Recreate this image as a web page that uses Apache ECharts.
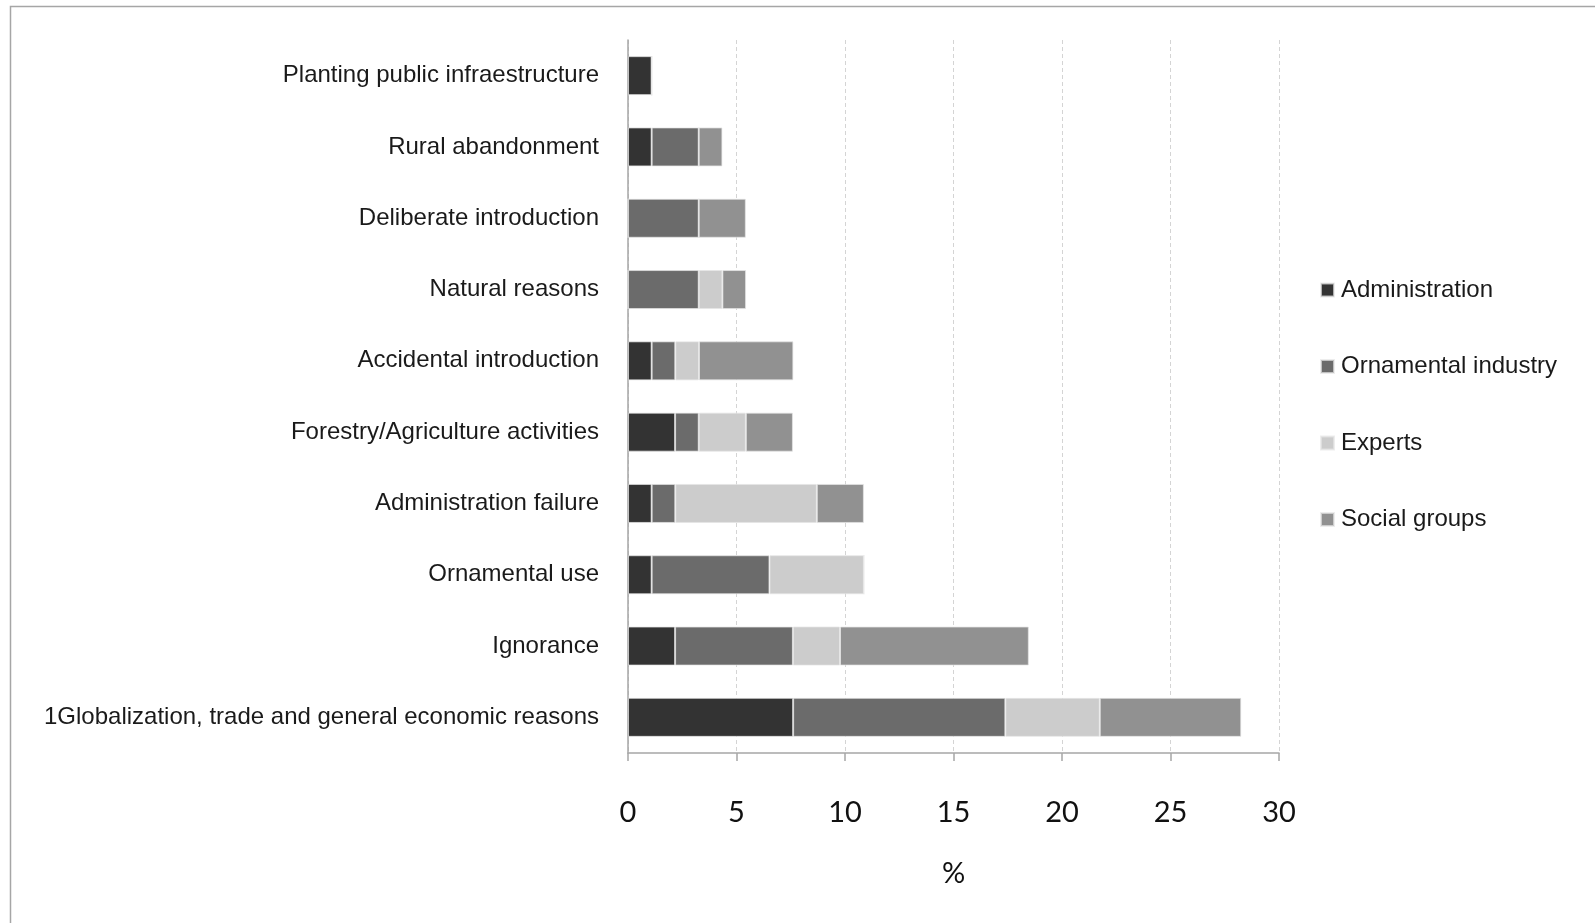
<!DOCTYPE html>
<html>
<head>
<meta charset="utf-8">
<script src="https://cdn.jsdelivr.net/npm/echarts@6/dist/echarts.min.js"></script>
<style>
  html, body { margin: 0; padding: 0; background: #fff; }
  #chart { width: 1595px; height: 923px; }
</style>
</head>
<body>
<div id="chart"></div>
<script>
// Causes of invasive plant spread, share of responses (%) by stakeholder group
const categories = [
  'Planting public infraestructure',
  'Rural abandonment',
  'Deliberate introduction',
  'Natural reasons',
  'Accidental introduction',
  'Forestry/Agriculture activities',
  'Administration failure',
  'Ornamental use',
  'Ignorance',
  '1Globalization, trade and general economic reasons'
];

const administration = [1.09, 1.09, 0, 0, 1.09, 2.17, 1.09, 1.09, 2.17, 7.61];
const ornamentalIndustry = [0, 2.17, 3.26, 3.26, 1.09, 1.09, 1.09, 5.43, 5.43, 9.78];
const experts = [0, 0, 0, 1.09, 1.09, 2.17, 6.52, 4.35, 2.17, 4.35];
const socialGroups = [0, 1.09, 2.17, 1.09, 4.35, 2.17, 2.17, 0, 8.70, 6.52];

const seriesNames = ['Administration', 'Ornamental industry', 'Experts', 'Social groups'];
const seriesColors = ['#333333', '#6b6b6b', '#cccccc', '#919191'];
const seriesData = [administration, ornamentalIndustry, experts, socialGroups];

const xTicks = { min: 0, max: 30, interval: 5 };

const labelFont = "'Liberation Sans', Arial, sans-serif";
const tickFont = "Lato, 'Open Sans', sans-serif";

const chart = echarts.init(document.getElementById('chart'), null, { renderer: 'canvas' });

chart.setOption({
  backgroundColor: '#ffffff',
  animation: false,
  graphic: [{
    type: 'rect',
    shape: { x: 10.5, y: 6.5, width: 1700, height: 1000 },
    style: { fill: 'none', stroke: '#a6a6a6', lineWidth: 1.5 },
    silent: true
  }],
  grid: { left: 628, top: 40, width: 651, height: 713, containLabel: false },
  legend: {
    orient: 'vertical',
    left: 1320,
    top: 278,
    padding: 0,
    itemWidth: 13,
    itemHeight: 13,
    itemGap: 52.5,
    icon: 'rect',
    data: seriesNames,
    textStyle: { fontFamily: labelFont, fontSize: 24, color: '#1a1a1a', padding: [0, 0, 0, 2] }
  },
  xAxis: {
    type: 'value',
    min: xTicks.min,
    max: xTicks.max,
    interval: xTicks.interval,
    name: '%',
    nameLocation: 'middle',
    nameGap: 106,
    nameTextStyle: { fontFamily: tickFont, fontSize: 29, color: '#111' },
    axisLine: { show: true, lineStyle: { color: '#a6a6a6', width: 1.5 } },
    axisTick: { show: true, length: 8, lineStyle: { color: '#a6a6a6', width: 1.5 } },
    axisLabel: { margin: 45, fontFamily: tickFont, fontSize: 29, color: '#111' },
    splitLine: { show: true, lineStyle: { color: '#d4d4d4', type: [4, 3], width: 1 } }
  },
  yAxis: {
    type: 'category',
    data: categories,
    inverse: true,
    axisLine: { show: true, lineStyle: { color: '#a6a6a6', width: 1.5 } },
    axisTick: { show: false },
    axisLabel: { margin: 29, fontFamily: labelFont, fontSize: 24, color: '#1a1a1a', lineHeight: 24, padding: [5, 0, 0, 0] },
    splitLine: { show: false }
  },
  series: seriesData.map((data, i) => ({
    name: seriesNames[i],
    type: 'bar',
    stack: 'total',
    data: data,
    barWidth: 39,
    itemStyle: { color: seriesColors[i], borderColor: 'rgba(230,230,230,0.7)', borderWidth: 1 }
  }))
});
</script>
</body>
</html>
